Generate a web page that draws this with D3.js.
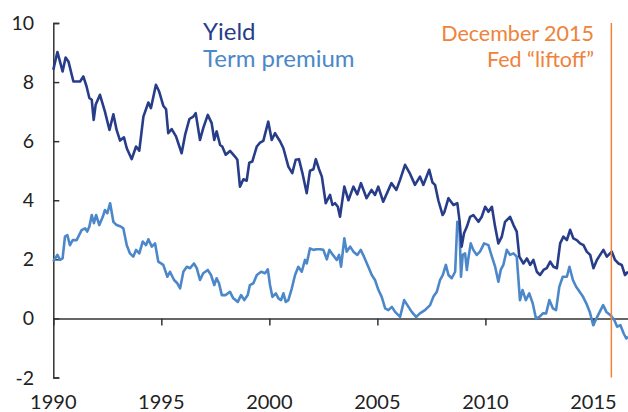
<!DOCTYPE html>
<html>
<head>
<meta charset="utf-8">
<script src="https://cdn.jsdelivr.net/npm/d3@7"></script>
<style>
  body { margin: 0; background: #fff; }
  text { font-family: Lato, "Open Sans", sans-serif; }
</style>
</head>
<body>
<svg id="chart" width="628" height="412"></svg>
<script>
// 10-year yield (decimal year, percent)
var yieldData = [
  [1990.0, 8.42], [1990.19, 9.02], [1990.43, 8.36], [1990.57, 8.83], [1990.7, 8.7],
  [1990.93, 8.02], [1991.24, 8.02], [1991.39, 8.19], [1991.54, 7.85], [1991.67, 7.46],
  [1991.78, 7.4], [1991.87, 6.72], [1991.96, 7.23], [1992.16, 7.57], [1992.39, 7.0],
  [1992.6, 6.38], [1992.78, 6.91], [1992.93, 6.38], [1993.09, 6.02], [1993.27, 6.13],
  [1993.4, 5.76], [1993.63, 5.39], [1993.83, 5.82], [1993.98, 5.68], [1994.17, 6.83],
  [1994.4, 7.31], [1994.52, 7.12], [1994.75, 7.91], [1994.9, 7.68], [1995.09, 7.2],
  [1995.22, 7.08], [1995.32, 6.27], [1995.48, 6.41], [1995.68, 6.16], [1995.94, 5.59],
  [1996.1, 6.21], [1996.3, 6.75], [1996.48, 6.83], [1996.59, 6.95], [1996.79, 6.04],
  [1996.94, 6.44], [1997.15, 6.89], [1997.33, 6.61], [1997.45, 6.04], [1997.56, 6.33],
  [1997.72, 5.87], [1997.82, 5.82], [1997.98, 5.54], [1998.18, 5.67], [1998.41, 5.48],
  [1998.52, 5.37], [1998.64, 4.46], [1998.8, 4.71], [1998.95, 4.66], [1999.07, 5.27],
  [1999.21, 5.31], [1999.42, 5.82], [1999.57, 5.95], [1999.72, 6.01], [1999.95, 6.66],
  [2000.11, 6.04], [2000.26, 6.27], [2000.5, 5.99], [2000.65, 5.76], [2000.88, 5.14],
  [2001.06, 4.92], [2001.22, 5.37], [2001.37, 5.39], [2001.53, 4.92], [2001.73, 4.24],
  [2001.88, 5.0], [2002.04, 5.05], [2002.15, 5.39], [2002.3, 5.05], [2002.43, 4.8],
  [2002.61, 3.9], [2002.81, 4.18], [2002.92, 3.84], [2003.04, 3.9], [2003.17, 3.78],
  [2003.27, 3.44], [2003.47, 4.46], [2003.66, 4.0], [2003.89, 4.46], [2004.07, 4.2],
  [2004.24, 4.58], [2004.5, 4.07], [2004.73, 4.35], [2004.89, 4.18], [2005.04, 4.46],
  [2005.27, 3.95], [2005.65, 4.58], [2005.88, 4.35], [2006.05, 4.69], [2006.28, 5.2],
  [2006.51, 4.9], [2006.74, 4.52], [2006.97, 4.8], [2007.13, 4.52], [2007.4, 5.03],
  [2007.55, 4.6], [2007.67, 4.52], [2007.82, 4.0], [2008.02, 3.5], [2008.1, 3.6],
  [2008.29, 4.07], [2008.52, 3.84], [2008.7, 3.9], [2008.8, 3.33], [2008.9, 2.43],
  [2009.01, 2.88], [2009.14, 3.1], [2009.29, 3.44], [2009.44, 3.5], [2009.68, 3.27],
  [2009.83, 3.44], [2009.99, 3.78], [2010.14, 3.61], [2010.3, 3.78], [2010.45, 3.1],
  [2010.6, 2.54], [2010.76, 2.77], [2010.91, 3.27], [2011.14, 3.44], [2011.3, 3.16],
  [2011.45, 2.94], [2011.57, 2.09], [2011.76, 1.86], [2011.92, 2.03], [2012.07, 1.81],
  [2012.22, 1.98], [2012.38, 1.58], [2012.53, 1.47], [2012.69, 1.64], [2012.84, 1.7],
  [2013.0, 1.92], [2013.15, 1.75], [2013.31, 1.7], [2013.46, 2.54], [2013.61, 2.77],
  [2013.77, 2.65], [2013.92, 3.0], [2014.07, 2.71], [2014.23, 2.65], [2014.38, 2.54],
  [2014.54, 2.48], [2014.69, 2.26], [2014.85, 2.15], [2015.0, 1.7], [2015.16, 1.98],
  [2015.31, 2.15], [2015.46, 2.32], [2015.62, 2.09], [2015.85, 2.26], [2016.0, 1.98],
  [2016.16, 1.86], [2016.31, 1.81], [2016.46, 1.47], [2016.6, 1.58]
];

// term premium (decimal year, percent)
var premiumData = [
  [1990.0, 1.92], [1990.08, 2.03], [1990.19, 2.15], [1990.31, 1.98], [1990.43, 2.03],
  [1990.54, 2.77], [1990.65, 2.82], [1990.77, 2.48], [1990.9, 2.65], [1991.08, 2.65],
  [1991.31, 2.99], [1991.47, 3.05], [1991.57, 2.94], [1991.67, 3.11], [1991.78, 3.5],
  [1991.88, 3.22], [1991.98, 3.5], [1992.13, 3.16], [1992.29, 3.44], [1992.39, 3.67],
  [1992.5, 3.56], [1992.63, 3.9], [1992.78, 3.27], [1992.93, 3.16], [1993.12, 3.11],
  [1993.24, 3.05], [1993.4, 2.48], [1993.55, 2.2], [1993.7, 2.09], [1993.83, 2.32],
  [1993.98, 2.2], [1994.14, 2.6], [1994.29, 2.48], [1994.4, 2.68], [1994.56, 2.43],
  [1994.71, 2.54], [1994.86, 1.92], [1995.09, 1.81], [1995.28, 1.41], [1995.4, 1.58],
  [1995.59, 1.3], [1995.74, 1.19], [1995.87, 1.02], [1996.02, 1.58], [1996.18, 1.75],
  [1996.33, 1.7], [1996.51, 1.86], [1996.64, 1.7], [1996.79, 1.3], [1996.94, 1.53],
  [1997.15, 1.64], [1997.3, 1.47], [1997.45, 1.13], [1997.56, 1.36], [1997.67, 1.19],
  [1997.8, 0.79], [1997.98, 0.79], [1998.18, 0.9], [1998.33, 0.68], [1998.54, 0.56],
  [1998.69, 0.79], [1998.84, 0.62], [1999.0, 0.79], [1999.1, 1.13], [1999.26, 1.19],
  [1999.42, 1.47], [1999.62, 1.58], [1999.8, 1.53], [1999.93, 1.66], [2000.03, 1.13],
  [2000.14, 0.73], [2000.3, 0.85], [2000.42, 0.68], [2000.54, 0.62], [2000.65, 0.85],
  [2000.76, 0.56], [2000.88, 0.62], [2001.04, 1.02], [2001.19, 1.47], [2001.34, 1.75],
  [2001.5, 1.58], [2001.65, 1.98], [2001.73, 1.86], [2001.88, 2.37], [2002.04, 2.32],
  [2002.19, 2.34], [2002.35, 2.34], [2002.5, 2.32], [2002.66, 2.0], [2002.78, 2.32],
  [2002.94, 2.15], [2003.12, 1.98], [2003.23, 2.15], [2003.32, 1.75], [2003.47, 2.71],
  [2003.58, 2.26], [2003.74, 2.43], [2003.89, 2.26], [2004.07, 2.15], [2004.23, 2.32],
  [2004.38, 2.09], [2004.58, 1.75], [2004.74, 1.47], [2004.89, 1.3], [2005.05, 0.96],
  [2005.2, 0.73], [2005.36, 0.34], [2005.51, 0.28], [2005.67, 0.39], [2005.82, 0.22],
  [2006.05, 0.05], [2006.24, 0.62], [2006.44, 0.39], [2006.59, 0.22], [2006.79, 0.05],
  [2006.97, 0.17], [2007.2, 0.28], [2007.44, 0.45], [2007.59, 0.73], [2007.75, 0.9],
  [2007.9, 1.3], [2008.03, 1.47], [2008.17, 1.81], [2008.29, 1.47], [2008.44, 1.36],
  [2008.6, 1.58], [2008.7, 3.27], [2008.8, 3.1], [2008.87, 1.41], [2008.95, 2.15],
  [2009.06, 2.2], [2009.14, 1.64], [2009.21, 2.03], [2009.32, 2.54], [2009.44, 2.32],
  [2009.6, 2.15], [2009.75, 2.26], [2009.94, 2.54], [2010.14, 2.48], [2010.3, 2.09],
  [2010.45, 1.75], [2010.6, 1.24], [2010.71, 1.64], [2010.83, 1.81], [2010.99, 2.32],
  [2011.14, 2.15], [2011.3, 2.2], [2011.45, 2.09], [2011.6, 0.62], [2011.72, 0.96],
  [2011.87, 0.62], [2012.03, 0.85], [2012.19, 0.51], [2012.34, 0.0], [2012.5, 0.05],
  [2012.66, 0.17], [2012.81, 0.17], [2012.96, 0.62], [2013.12, 0.34], [2013.27, 0.28],
  [2013.42, 1.07], [2013.58, 1.41], [2013.77, 1.41], [2013.89, 1.75], [2014.05, 1.3],
  [2014.2, 1.07], [2014.36, 0.9], [2014.52, 0.73], [2014.67, 0.51], [2014.83, 0.22],
  [2014.99, -0.23], [2015.14, 0.0], [2015.29, 0.22], [2015.45, 0.45], [2015.6, 0.22],
  [2015.79, 0.11], [2015.97, -0.06], [2016.1, -0.28], [2016.25, -0.23], [2016.4, -0.51],
  [2016.52, -0.68], [2016.6, -0.62]
];

var yTicks = [-2, 0, 2, 4, 6, 8, 10];
var xTicks = [1990, 1995, 2000, 2005, 2010, 2015];
var legendLabels = ['Yield', 'Term premium'];
var liftoff = 2015.83;
var liftoffLabel = ['December 2015', 'Fed \u201cliftoff\u201d'];

var svg = d3.select('#chart'),
    width = +svg.attr('width'),
    height = +svg.attr('height');

var colors = { yld: '#283d8a', prem: '#4c88c9', fed: '#f0823a', axis: '#333' };

var x = d3.scaleLinear().domain([1990, 2016.6]).range([53.3, 628]);
var y = d3.scaleLinear().domain([-2, 10]).range([377.5, 23]);

// y axis, ticks point inward
var yAxis = svg.append('g')
    .attr('transform', 'translate(' + x(1990) + ',0)')
    .call(d3.axisRight(y).tickValues(yTicks).tickSize(6).tickFormat(''));
yAxis.select('.domain').attr('stroke', colors.axis).attr('stroke-width', 1.5);
yAxis.selectAll('.tick line').attr('stroke', colors.axis).attr('stroke-width', 1.5);

svg.append('g').selectAll('text')
    .data(yTicks)
    .enter().append('text')
    .attr('x', 34)
    .attr('y', function (d) { return y(d); })
    .attr('dy', '0.36em')
    .attr('text-anchor', 'end')
    .attr('font-size', 19.5)
    .attr('fill', '#222')
    .text(function (d) { return d; });

// zero line with year ticks
var xAxis = svg.append('g')
    .attr('transform', 'translate(0,' + y(0) + ')')
    .call(d3.axisBottom(x).tickValues(xTicks).tickSize(7).tickSizeOuter(0).tickFormat(''));
xAxis.select('.domain').attr('stroke', colors.axis).attr('stroke-width', 1.5);
xAxis.selectAll('.tick line').attr('stroke', colors.axis).attr('stroke-width', 1.5);

svg.append('g').selectAll('text')
    .data(xTicks)
    .enter().append('text')
    .attr('x', function (d) { return x(d); })
    .attr('y', 409)
    .attr('text-anchor', 'middle')
    .attr('font-size', 20)
    .attr('fill', '#222')
    .text(function (d) { return d; });

// series
var line = d3.line()
    .x(function (d) { return x(d[0]); })
    .y(function (d) { return y(d[1]); });

svg.append('path')
    .datum(premiumData)
    .attr('d', line)
    .attr('fill', 'none')
    .attr('stroke', colors.prem)
    .attr('stroke-width', 2.6)
    .attr('stroke-linejoin', 'round');

svg.append('path')
    .datum(yieldData)
    .attr('d', line)
    .attr('fill', 'none')
    .attr('stroke', colors.yld)
    .attr('stroke-width', 2.6)
    .attr('stroke-linejoin', 'round');

// liftoff marker
svg.append('line')
    .attr('x1', x(liftoff)).attr('x2', x(liftoff))
    .attr('y1', y(10)).attr('y2', y(-2))
    .attr('stroke', colors.fed)
    .attr('stroke-width', 1.5);

svg.append('g').selectAll('text')
    .data(liftoffLabel)
    .enter().append('text')
    .attr('x', 594)
    .attr('y', function (d, i) { return 41 + i * 26; })
    .attr('text-anchor', 'end')
    .attr('font-size', 21.5)
    .attr('fill', colors.fed)
    .text(function (d) { return d; });

// legend
svg.append('g').selectAll('text')
    .data(legendLabels)
    .enter().append('text')
    .attr('x', 203)
    .attr('y', function (d, i) { return 40 + i * 27; })
    .attr('font-size', 24)
    .attr('fill', function (d, i) { return i ? colors.prem : colors.yld; })
    .text(function (d) { return d; });
</script>
</body>
</html>
